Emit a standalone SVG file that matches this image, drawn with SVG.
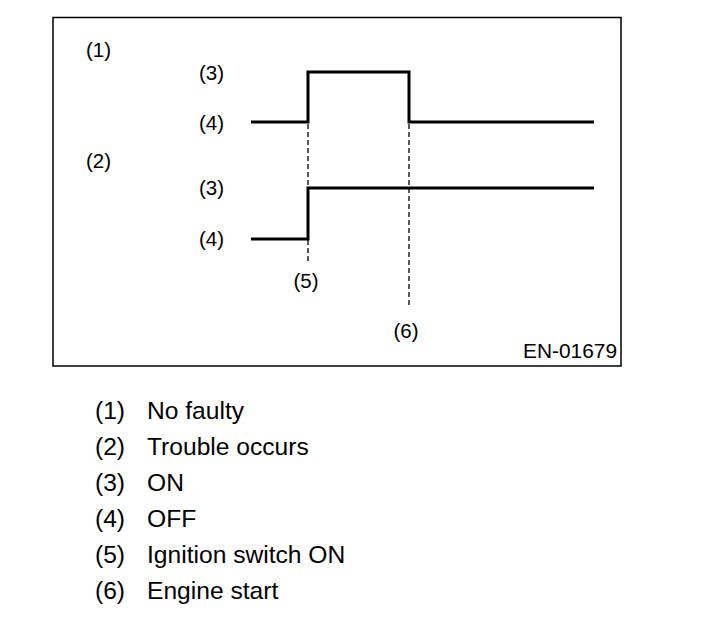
<svg xmlns="http://www.w3.org/2000/svg" width="704" height="622" viewBox="0 0 704 622">
<style>
.t{font-family:"Liberation Sans",Arial,sans-serif;font-size:20.5px;fill:#000}
.l{font-family:"Liberation Sans",Arial,sans-serif;font-size:24.6px;fill:#000}
.w{fill:none;stroke:#000;stroke-width:3}
.d{fill:none;stroke:#000;stroke-width:1.3;stroke-dasharray:5,3}
</style>
<rect width="704" height="622" fill="#fff"/>
<rect id="frame" x="53" y="17.5" width="568" height="348.5" fill="none" stroke="#000" stroke-width="1.5"/>
<g id="labels">
<text class="t" x="86" y="57">(1)</text>
<text class="t" x="199" y="80">(3)</text>
<text class="t" x="199" y="130">(4)</text>
<text class="t" x="86" y="168">(2)</text>
<text class="t" x="199" y="195">(3)</text>
<text class="t" x="199" y="246">(4)</text>
<text class="t" x="306" y="288" text-anchor="middle">(5)</text>
<text class="t" x="406" y="338" text-anchor="middle">(6)</text>
<text class="t" x="523" y="358" textLength="94" lengthAdjust="spacingAndGlyphs">EN-01679</text>
</g>
<g id="connectors">
<polyline id="wave1" class="w" points="251,122 308,122 308,72 409,72 409,122 594,122"/>
<polyline id="wave2" class="w" points="251,239 308,239 308,188 594,188"/>
<line class="d" x1="308" y1="124" x2="308" y2="187"/>
<line class="d" x1="308" y1="240" x2="308" y2="261"/>
<line class="d" x1="409" y1="124" x2="409" y2="306" stroke-width="1.8"/>
</g>
<g id="legend">
<text class="l" x="95" y="419">(1)</text><text class="l" x="147" y="419">No faulty</text>
<text class="l" x="95" y="455">(2)</text><text class="l" x="147" y="455">Trouble occurs</text>
<text class="l" x="95" y="491">(3)</text><text class="l" x="147" y="491">ON</text>
<text class="l" x="95" y="527">(4)</text><text class="l" x="147" y="527">OFF</text>
<text class="l" x="95" y="563">(5)</text><text class="l" x="147" y="563">Ignition switch ON</text>
<text class="l" x="95" y="599">(6)</text><text class="l" x="147" y="599">Engine start</text>
</g>
</svg>
